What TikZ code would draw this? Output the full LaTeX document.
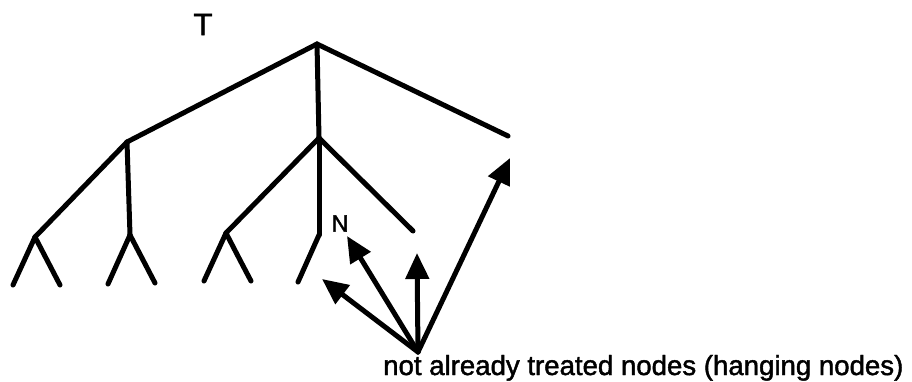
\documentclass[tikz,border=0pt]{standalone}
\usepackage{fontspec}
\setmainfont[FakeBold=1.6,BoldFont=Liberation Sans]{Liberation Sans}
\usetikzlibrary{arrows.meta}
\begin{document}
\begin{tikzpicture}[x=1pt,y=-1pt,
  edge/.style={line width=5pt,line cap=round,line join=round},
  pointer/.style={line width=5pt,line cap=round,-{Triangle[length=26pt,width=23pt]}},
  lbl/.style={inner sep=0pt,font=\bfseries\fontsize{31}{31}\selectfont}]
\useasboundingbox (0,0) rectangle (912,382);
% tree vertices
\coordinate (root) at (317,44);
\coordinate (l) at (127,142);
\coordinate (m) at (319,138);
\coordinate (r) at (508,136);
\coordinate (ll) at (35,237);
\coordinate (lm) at (130,235);
\coordinate (ll1) at (13,285);
\coordinate (ll2) at (60,285);
\coordinate (lm1) at (108,284);
\coordinate (lm2) at (155,283);
\coordinate (ml) at (226,233);
\coordinate (mm) at (319,235);
\coordinate (mr) at (413,231);
\coordinate (ml1) at (204,281);
\coordinate (ml2) at (251,281);
\coordinate (mm1) at (298,282);
% hanging-node pointers
\coordinate (src) at (418,352);
\coordinate (h1) at (322,279);
\coordinate (h2) at (347,236);
\coordinate (h3) at (417,253);
\coordinate (h4) at (510,158);
% edges
\draw[edge] (root) -- (l);
\draw[edge] (root) -- (m);
\draw[edge] (root) -- (r);
\draw[edge] (l) -- (ll);
\draw[edge] (l) -- (lm);
\draw[edge] (ll) -- (ll1);
\draw[edge] (ll) -- (ll2);
\draw[edge] (lm) -- (lm1);
\draw[edge] (lm) -- (lm2);
\draw[edge] (m) -- (ml);
\draw[edge] (m) -- (mm);
\draw[edge] (m) -- (mr);
\draw[edge] (ml) -- (ml1);
\draw[edge] (ml) .. controls (241,262) .. (ml2);
\draw[edge] (mm) -- (mm1);
% arrows to the hanging nodes
\draw[pointer] (src) -- (h1);
\draw[pointer] (src) -- (h2);
\draw[pointer] (src) -- (h3);
\draw[pointer] (src) -- (h4);
% labels
\node[lbl] (t) at (203,24.5) {T};
\node[lbl,font=\bfseries\fontsize{23.5}{24}\selectfont] (n) at (340,223.5) {N};
\node[lbl,anchor=base west,font=\bfseries\fontsize{27.6}{28}\selectfont] (caption) at (383,375) {not already treated nodes (hanging nodes)};
\end{tikzpicture}
\end{document}
